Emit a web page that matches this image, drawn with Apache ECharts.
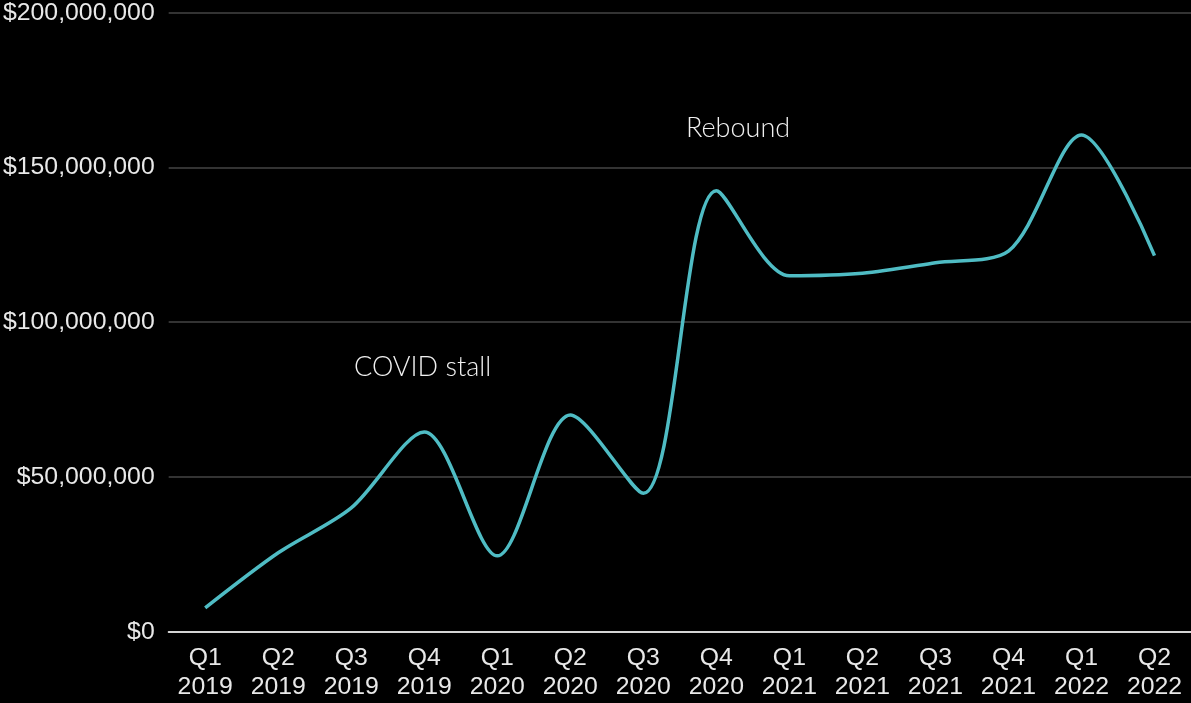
<!DOCTYPE html>
<html>
<head>
<meta charset="utf-8">
<script src="https://cdn.jsdelivr.net/npm/echarts@6/dist/echarts.min.js"></script>
<style>
  html, body { margin: 0; padding: 0; background: #000; }
  #chart { width: 1191px; height: 703px; }
</style>
</head>
<body>
<div id="chart"></div>
<script>
// Quarterly revenue, Q1 2019 – Q2 2022
const quarters = ['Q1\n2019', 'Q2\n2019', 'Q3\n2019', 'Q4\n2019',
                  'Q1\n2020', 'Q2\n2020', 'Q3\n2020', 'Q4\n2020',
                  'Q1\n2021', 'Q2\n2021', 'Q3\n2021', 'Q4\n2021',
                  'Q1\n2022', 'Q2\n2022'];
const revenue = [7.7e6, 25.5e6, 40e6, 64.5e6,
                 24.5e6, 70e6, 44.7e6, 142.5e6,
                 115e6, 115.8e6, 119.2e6, 123e6,
                 160.5e6, 121.5e6];
const yTicks = { min: 0, max: 200e6, interval: 50e6 };
const notes = [
  { text: 'COVID stall', left: 354, top: 354 },
  { text: 'Rebound', left: 686, top: 115 }
];

const chart = echarts.init(document.getElementById('chart'), null, { renderer: 'canvas' });

const labelFont = { color: '#e8e8e8', fontSize: 24.8, fontFamily: 'Liberation Sans, Arial, sans-serif' };

chart.setOption({
  backgroundColor: '#000',
  animation: false,
  grid: { left: 168, right: 0, top: 12.7, bottom: 71.3, containLabel: false },
  xAxis: {
    type: 'category',
    data: quarters,
    boundaryGap: true,
    axisLine: { show: true, lineStyle: { color: '#d4d4d4', width: 2 } },
    axisTick: { show: false },
    axisLabel: Object.assign({ margin: 12, lineHeight: 29, interval: 0 }, labelFont)
  },
  yAxis: {
    type: 'value',
    min: yTicks.min,
    max: yTicks.max,
    interval: yTicks.interval,
    axisLine: { show: false },
    axisTick: { show: false },
    splitLine: { lineStyle: { color: '#444', width: 1.5 } },
    axisLabel: Object.assign({
      margin: 14,
      formatter: v => '$' + v.toLocaleString('en-US')
    }, labelFont)
  },
  series: [{
    type: 'line',
    data: revenue,
    smooth: 0.3,
    showSymbol: false,
    lineStyle: { color: '#4fbcc4', width: 3.5 },
    z: 3
  }],
  graphic: notes.map(n => ({
    type: 'text',
    left: n.left,
    top: n.top,
    style: { text: n.text, fill: '#f0f0f0', fontSize: 27, fontWeight: 300, fontFamily: 'Lato, sans-serif' }
  }))
});
</script>
</body>
</html>
